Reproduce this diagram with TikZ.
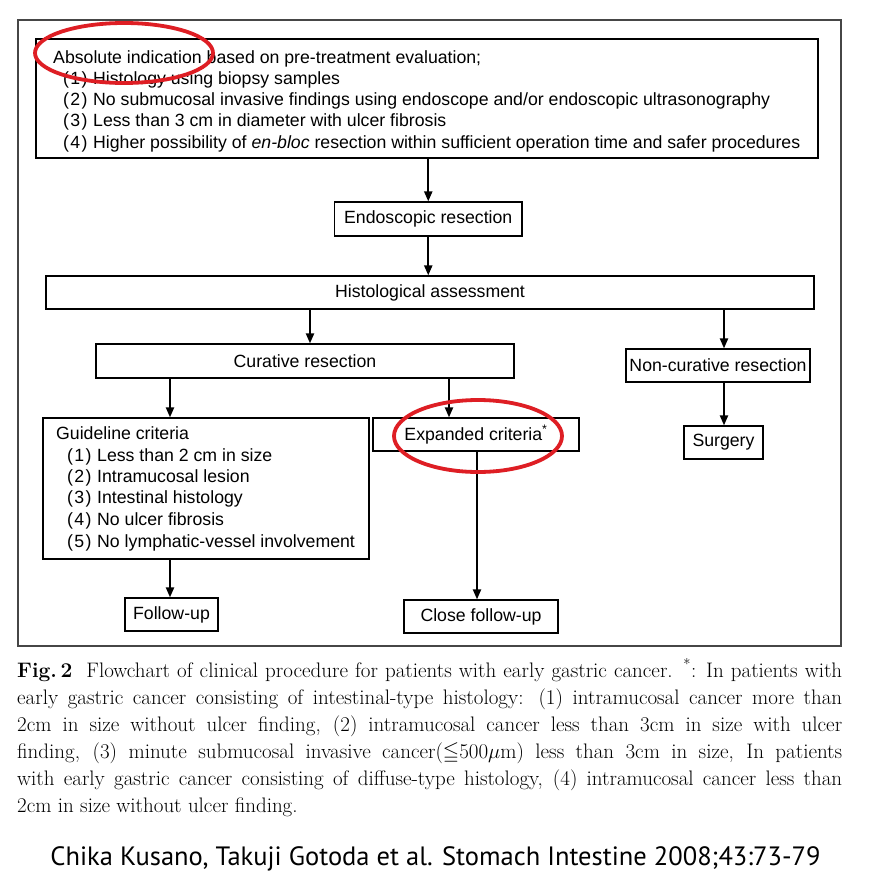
\documentclass[tikz,border=0pt]{standalone}
\usepackage{fontspec}
\usepackage{amssymb}
\newfontfamily\boxfont{Liberation Sans}
\newfontfamily\creditfont{PT Sans}
\usetikzlibrary{arrows.meta}
\definecolor{ring}{RGB}{222,30,36}
\definecolor{frame}{RGB}{70,70,70}
\newcommand\itm[1]{\makebox[30pt][l]{(\kern1.3pt#1\kern1.3pt)}}
\tikzset{
  box/.style={draw, line width=1.2pt, inner sep=0pt, font=\boxfont\fontsize{17.7}{20}\selectfont},
  boxtxt/.style={anchor=base west, inner sep=0pt, font=\boxfont\fontsize{17.7}{20}\selectfont},
  arr/.style={line width=2pt, -{Triangle[length=10pt,width=8pt]}},
  redring/.style={draw=ring, line width=3.8pt},
  captxt/.style={anchor=base west, inner sep=0pt, font=\fontsize{21}{27}\selectfont},
}
\begin{document}
\begin{tikzpicture}[x=1pt,y=-1pt]
\useasboundingbox (0,0) rectangle (868,880);
\fill[white] (0,0) rectangle (868,880);
% outer frame
\draw[frame, line width=1.6pt] (18,20) rectangle (841,646);

% boxes
\node[box, minimum width=782pt, minimum height=119pt] (top) at (427,98.5) {};
\node[boxtxt] (t0) at (53,64) {Absolute indication based on pre-treatment evaluation;};
\node[boxtxt] (t1) at (63,85) {\itm{1}Histology using biopsy samples};
\node[boxtxt] (t2) at (63,106) {\itm{2}No submucosal invasive findings using endoscope and/or endoscopic ultrasonography};
\node[boxtxt] (t3) at (63,127) {\itm{3}Less than 3 cm in diameter with ulcer fibrosis};
\node[boxtxt] (t4) at (63,148) {\itm{4}Higher possibility of \textit{en-bloc} resection within sufficient operation time and safer procedures};

\node[box, minimum width=187.5pt, minimum height=34pt] (endo) at (428.25,219) {Endoscopic resection};
\node[box, minimum width=768pt, minimum height=33pt] (hist) at (430,292.5) {Histological assessment};
\node[box, minimum width=418pt, minimum height=34pt] (cur) at (305,361) {Curative resection};
\node[box, minimum width=184pt, minimum height=33pt] (noncur) at (718,365.5) {Non-curative resection};

\node[box, minimum width=326pt, minimum height=141pt] (guide) at (206,488.5) {};
\node[boxtxt] (g0) at (56,439) {Guideline criteria};
\node[boxtxt] (g1) at (67,461) {\itm{1}Less than 2 cm in size};
\node[boxtxt] (g2) at (67,482) {\itm{2}Intramucosal lesion};
\node[boxtxt] (g3) at (67,503.5) {\itm{3}Intestinal histology};
\node[boxtxt] (g4) at (67,525) {\itm{4}No ulcer fibrosis};
\node[boxtxt] (g5) at (67,547) {\itm{5}No lymphatic-vessel involvement};

\node[box, minimum width=206pt, minimum height=33pt] (exp) at (476,434.5) {Expanded criteria\textsuperscript{*}};
\node[box, minimum width=79pt, minimum height=33pt] (surg) at (723.5,442.5) {Surgery};
\node[box, minimum width=93pt, minimum height=33pt] (follow) at (171.5,614.5) {Follow-up};
\node[box, minimum width=154pt, minimum height=33pt] (close) at (481,616.5) {Close follow-up};

% connectors
\draw[arr] (top.south -| endo.north) -- (endo.north);
\draw[arr] (endo.south) -- (endo.south |- hist.north);
\draw[arr] (hist.south -| 310,0) -- (cur.north -| 310,0);
\draw[arr] (hist.south -| 724,0) -- (noncur.north -| 724,0);
\draw[arr] (noncur.south -| 724,0) -- (surg.north -| 724,0);
\draw[arr] (cur.south -| 170,0) -- (guide.north -| 170,0);
\draw[arr] (cur.south -| 449,0) -- (exp.north -| 449,0);
\draw[arr] (guide.south -| 170,0) -- (follow.north -| 170,0);
\draw[arr] (exp.south -| 477,0) -- (close.north -| 477,0);

% red rings
\draw[redring] (124,53) ellipse [x radius=89pt, y radius=30pt];
\draw[redring] (478,436) ellipse [x radius=84pt, y radius=36pt];

% caption
\node[captxt] (c1) at (17,677) {\makebox[825pt][s]{\textbf{Fig.\,2}\ \ Flowchart of clinical procedure for patients with early gastric cancer. \textsuperscript{*}: In patients with}};
\node[captxt] (c2) at (17,704) {\makebox[825pt][s]{early gastric cancer consisting of intestinal-type histology: (1) intramucosal cancer more than}};
\node[captxt] (c3) at (17,731) {\makebox[825pt][s]{2cm in size without ulcer finding, (2) intramucosal cancer less than 3cm in size with ulcer}};
\node[captxt] (c4) at (17,758) {\makebox[825pt][s]{finding, (3) minute submucosal invasive cancer($\leqq$500$\mu$m) less than 3cm in size, In patients}};
\node[captxt] (c5) at (17,785) {\makebox[825pt][s]{with early gastric cancer consisting of diffuse-type histology, (4) intramucosal cancer less than}};
\node[captxt] (c6) at (17,812) {2cm in size without ulcer finding.};

% credit
\node[anchor=base, inner sep=0pt, font=\creditfont\fontsize{26.5}{30}\selectfont] (credit) at (435.5,865) {Chika Kusano, Takuji Gotoda et al. Stomach Intestine 2008;43:73-79};
\end{tikzpicture}
\end{document}
